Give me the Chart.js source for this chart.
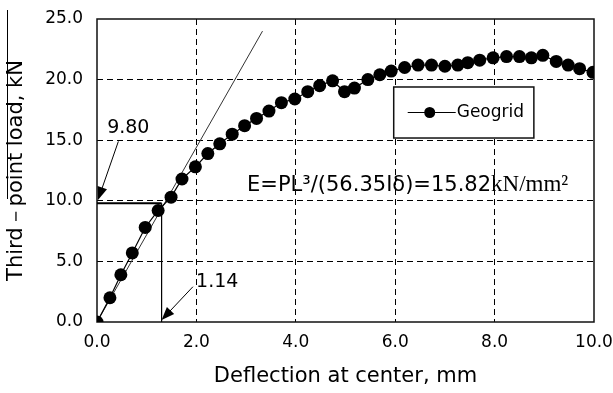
<!DOCTYPE html>
<html><head><meta charset="utf-8">
<script src="https://cdn.jsdelivr.net/npm/chart.js@4"></script>
<style>html,body{margin:0;padding:0;background:#fff}canvas{display:block}</style>
</head><body>
<canvas id="c" width="613" height="393"></canvas>
<script>
// ---- data ----
const deflection = [0, 0.26, 0.48, 0.71, 0.97, 1.23, 1.49, 1.71, 1.98, 2.23, 2.47, 2.72, 2.97, 3.21, 3.46, 3.71, 3.98, 4.24, 4.48, 4.74, 4.98, 5.18, 5.45, 5.69, 5.92, 6.19, 6.46, 6.73, 7.0, 7.26, 7.46, 7.7, 7.97, 8.24, 8.5, 8.74, 8.97, 9.24, 9.48, 9.71, 9.98];
const load = [0, 2.0, 3.9, 5.7, 7.8, 9.2, 10.3, 11.8, 12.8, 13.9, 14.7, 15.5, 16.2, 16.8, 17.4, 18.1, 18.4, 19.0, 19.5, 19.9, 19.0, 19.3, 20.0, 20.4, 20.7, 21.0, 21.2, 21.2, 21.1, 21.2, 21.4, 21.6, 21.8, 21.9, 21.9, 21.8, 22.0, 21.5, 21.2, 20.9, 20.6];
const xTickLabels = ['0.0', '2.0', '4.0', '6.0', '8.0', '10.0'];
const yTickLabels = ['0.0', '5.0', '10.0', '15.0', '20.0', '25.0'];
const seriesName = 'Geogrid';
const tangentX = [0, 3.33];
const tangentY = [0, 24.0];
const refLoad = 9.80;
const refDefl = 1.30;
const refLoadLabel = '9.80';
const refDeflLabel = '1.14';
const formulaSans = 'E=PL\u00B3/(56.35I\u03B4)=15.82';
const formulaSerif = 'kN/mm\u00B2';
const xTitle = 'Deflection at center, mm';
const yTitle = 'Third\uFF0Dpoint load, kN';

// ---- annotation placement (data coordinates) ----
const arrowLoad = [0.43, 14.9, 0.02, 10.07];
const arrowDefl = [1.93, 2.91, 1.30, 0.17];
const labelLoadPos = [0.63, 16.0];
const labelDeflPos = [2.42, 3.26];
const formulaPos = [3.02, 10.8];
const legendBox = [5.97, 19.39, 8.79, 15.18];

const FONT = 'DejaVu Sans';

const deco = {
  id: 'deco',
  beforeDatasetsDraw(chart) {
    const {ctx, chartArea: a} = chart;
    ctx.save();
    ctx.strokeStyle = '#111';
    ctx.lineWidth = 1.5;
    ctx.strokeRect(a.left, a.top, a.right - a.left, a.bottom - a.top);
    ctx.restore();
  },
  afterDatasetsDraw(chart) {
    const {ctx, scales: {x, y}} = chart;
    const px = v => x.getPixelForValue(v), py = v => y.getPixelForValue(v);
    ctx.save();
    ctx.strokeStyle = '#000'; ctx.fillStyle = '#000'; ctx.lineWidth = 1;
    function arrow(p) {
      const X0 = px(p[0]), Y0 = py(p[1]), X1 = px(p[2]), Y1 = py(p[3]);
      const ang = Math.atan2(Y1 - Y0, X1 - X0);
      const c = Math.cos(ang), s = Math.sin(ang), L = 13, W = 5;
      ctx.beginPath(); ctx.moveTo(X0, Y0); ctx.lineTo(X1 - L * c * 0.7, Y1 - L * s * 0.7); ctx.stroke();
      ctx.beginPath(); ctx.moveTo(X1, Y1);
      ctx.lineTo(X1 - L * c + W * s, Y1 - L * s - W * c);
      ctx.lineTo(X1 - L * c - W * s, Y1 - L * s + W * c);
      ctx.closePath(); ctx.fill();
    }
    arrow(arrowLoad);
    arrow(arrowDefl);
    ctx.font = '19px "' + FONT + '"';
    ctx.textAlign = 'center'; ctx.textBaseline = 'middle';
    ctx.fillText(refLoadLabel, px(labelLoadPos[0]), py(labelLoadPos[1]));
    ctx.fillText(refDeflLabel, px(labelDeflPos[0]), py(labelDeflPos[1]));
    // formula
    ctx.textAlign = 'left'; ctx.textBaseline = 'alphabetic';
    ctx.font = '21px "' + FONT + '"';
    const fx = px(formulaPos[0]), fy = py(formulaPos[1]);
    ctx.fillText(formulaSans, fx, fy);
    const w = ctx.measureText(formulaSans).width;
    ctx.font = '23px "Liberation Serif"';
    ctx.fillText(formulaSerif, fx + w, fy);
    // legend
    const L0 = px(legendBox[0]), T0 = py(legendBox[1]), R0 = px(legendBox[2]), B0 = py(legendBox[3]);
    ctx.fillStyle = '#fff';
    ctx.fillRect(L0, T0, R0 - L0, B0 - T0);
    ctx.strokeStyle = '#111'; ctx.lineWidth = 1.5;
    ctx.strokeRect(L0, T0, R0 - L0, B0 - T0);
    const my = (T0 + B0) / 2;
    ctx.beginPath(); ctx.lineWidth = 1.2; ctx.strokeStyle = '#000';
    ctx.moveTo(L0 + 14, my); ctx.lineTo(L0 + 62, my); ctx.stroke();
    ctx.fillStyle = '#000';
    ctx.beginPath(); ctx.arc(L0 + 36, my, 5.5, 0, Math.PI * 2); ctx.fill();
    ctx.font = '17px "' + FONT + '"';
    ctx.textBaseline = 'middle';
    ctx.fillText(chart.data.datasets[0].label, L0 + 63, my);
    ctx.restore();
  },
  afterDraw(chart) {
    const ctx = chart.ctx;
    ctx.save();
    ctx.strokeStyle = '#000'; ctx.lineWidth = 1;
    ctx.beginPath(); ctx.moveTo(7.5, 10); ctx.lineTo(7.5, 199); ctx.stroke();
    ctx.restore();
  }
};

new Chart(document.getElementById('c'), {
  type: 'scatter',
  data: {
    datasets: [
      {
        label: seriesName,
        data: deflection.map((d, i) => ({x: d, y: load[i]})),
        showLine: true,
        borderColor: '#000', borderWidth: 1.2,
        pointRadius: 6.5, pointBackgroundColor: '#000', pointBorderColor: '#000',
        pointBorderWidth: 0
      },
      {
        label: 'tangent',
        data: tangentX.map((d, i) => ({x: d, y: tangentY[i]})),
        showLine: true, borderColor: '#333', borderWidth: 1, pointRadius: 0
      },
      {
        label: 'refLoad',
        data: [{x: 0, y: refLoad}, {x: refDefl, y: refLoad}],
        showLine: true, borderColor: '#000', borderWidth: 2, pointRadius: 0
      },
      {
        label: 'refDefl',
        data: [{x: refDefl, y: 0}, {x: refDefl, y: refLoad}],
        showLine: true, borderColor: '#000', borderWidth: 1.2, pointRadius: 0
      }
    ]
  },
  options: {
    responsive: false,
    animation: false,
    devicePixelRatio: 1,
    layout: {padding: {top: 19, right: 19, bottom: 0, left: 0}},
    plugins: {legend: {display: false}, tooltip: {enabled: false}},
    scales: {
      x: {
        type: 'linear', min: 0, max: 10,
        afterFit: s => { s.height = 71; s.paddingLeft = 0; s.paddingRight = 0; },
        ticks: {
          stepSize: 2, padding: 10, color: '#000',
          font: {family: FONT, size: 17},
          callback: v => xTickLabels[Math.round(v / 2)]
        },
        grid: {
          drawTicks: false, color: c => (c.tick && (c.tick.value === 0 || c.tick.value === 10)) ? 'rgba(0,0,0,0)' : '#000',
          lineWidth: 1
        },
        border: {display: false, dash: [6, 4]},
        title: {display: true, text: xTitle, color: '#000', font: {family: FONT, size: 21}, padding: {top: 0, bottom: 4}}
      },
      y: {
        type: 'linear', min: 0, max: 25,
        afterFit: s => { s.width = 97; s.paddingTop = 0; s.paddingBottom = 0; },
        ticks: {
          stepSize: 5, padding: 14, color: '#000',
          font: {family: FONT, size: 17},
          callback: v => yTickLabels[Math.round(v / 5)]
        },
        grid: {
          drawTicks: false, color: c => (c.tick && (c.tick.value === 0 || c.tick.value === 25)) ? 'rgba(0,0,0,0)' : '#000',
          lineWidth: 1
        },
        border: {display: false, dash: [6, 4]},
        title: {display: true, text: yTitle, color: '#000', font: {family: FONT, size: 21}, padding: {top: 4, bottom: 0}}
      }
    }
  },
  plugins: [deco]
});
</script>
</body></html>
